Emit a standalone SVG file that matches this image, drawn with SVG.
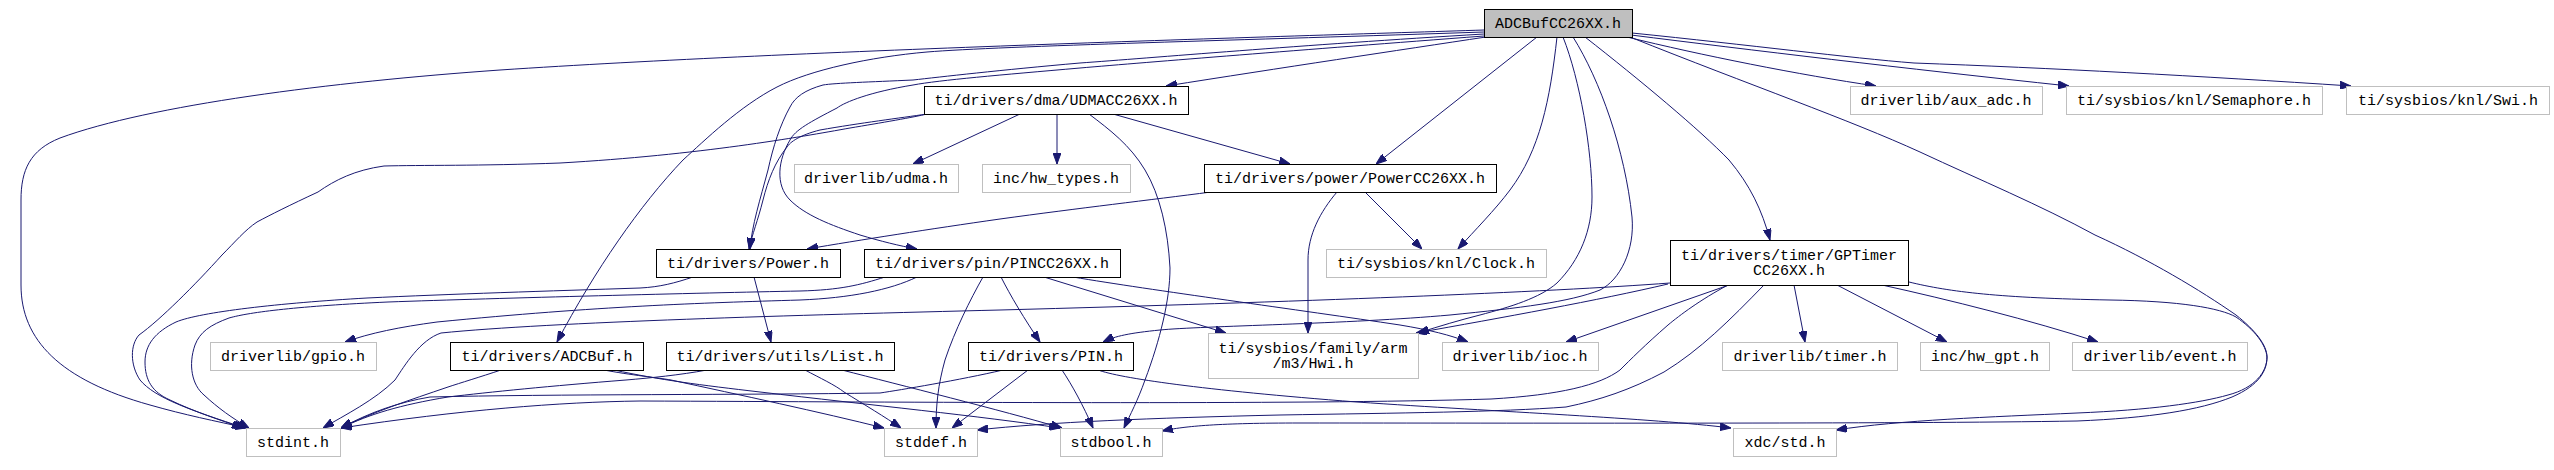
<svg xmlns="http://www.w3.org/2000/svg" width="2554" height="470" viewBox="0 0 2554 470">
<defs>
<marker id="ah" markerUnits="userSpaceOnUse" markerWidth="11" markerHeight="8" refX="11" refY="4" orient="auto"><path d="M0,0 L11,4 L0,8 Z" fill="#191970" stroke="#191970" stroke-width="1"/></marker>
</defs>
<style>
rect.b{fill:#fff;stroke:#000;stroke-width:1}
rect.g{fill:#fff;stroke:#bfbfbf;stroke-width:1}
rect.m{fill:#bfbfbf;stroke:#000;stroke-width:1}
text{font-family:"Liberation Mono","DejaVu Sans Mono",monospace;font-size:15px;fill:#000;text-anchor:middle}
#edges path{fill:none;stroke:#191970;stroke-width:1;marker-end:url(#ah)}
</style>
<rect width="2554" height="470" fill="#fff"/>
<g id="edges">
<path d="M1484,30 C1300,36 800,50 500,70 C330,82 150,105 60,138 C30,150 21,170 21,200 L21,285 C21,340 60,380 150,405 C185,415 215,421 247,428"/>
<path d="M1484,32 C1250,40 1000,46 927,52 C870,57 810,70 777,87 C740,106 705,140 683,160 C640,205 595,270 557,342"/>
<path d="M1486,37 C1400,50 1280,68 1166,86"/>
<path d="M1484,34 C1300,45 1150,58 1080,63 C1000,70 940,77 913,80 C870,82 835,83 823,85 C805,90 795,97 790,107 C780,125 773,147 768,170 C760,200 752,225 750,249"/>
<path d="M1484,36 C1300,50 1150,62 1080,68 C1000,75 940,80 913,85 C870,92 845,102 837,108 C810,122 795,130 790,140 C778,160 775,185 790,200 C805,215 830,225 860,235 C880,241 900,246 917,249"/>
<path d="M1537,37 L1376,164"/>
<path d="M1557,37 C1550,100 1540,150 1510,190 C1495,210 1475,230 1458,249"/>
<path d="M1563,37 C1580,80 1592,150 1592,197 C1592,230 1580,260 1557,283 C1540,298 1510,307 1480,315 C1460,320 1440,326 1418,333"/>
<path d="M1573,37 C1600,80 1625,150 1632,217 C1635,250 1620,280 1600,290 C1570,302 1520,308 1450,315 C1350,324 1200,326 1160,330 C1130,333 1115,336 1103,342"/>
<path d="M1585,37 C1640,80 1700,130 1729,160 C1750,185 1762,210 1770,240"/>
<path d="M1627,37 C1700,55 1800,75 1876,86"/>
<path d="M1631,35 C1750,50 1900,68 2069,86"/>
<path d="M1632,33 C1750,45 1850,58 1914,63 C2050,68 2200,76 2351,86"/>
<path d="M1630,37 C1750,85 1850,120 1920,152 C1980,180 2040,205 2095,235 C2150,260 2200,290 2236,315 C2255,330 2267,345 2267,357 C2267,370 2260,385 2232,397 C2200,410 2150,418 2077,421 C1900,424 1500,423 1300,423 C1220,423 1185,426 1162,431"/>
<path d="M1909,282 C1950,292 2000,298 2110,300 C2180,301 2220,308 2236,317 C2255,330 2266,345 2267,357 C2267,372 2255,388 2228,395 C2200,403 2150,410 2077,413 C1990,417 1900,420 1836,430"/>
<path d="M1670,283 C1550,292 1300,302 1000,310 C800,315 550,322 441,333 C420,340 405,365 395,380 C375,400 345,415 323,428"/>
<path d="M1728,285 C1700,300 1680,315 1668,325 C1645,345 1630,360 1620,370 C1600,385 1560,395 1491,399 C1300,405 900,402 640,401 C560,402 460,410 341,428"/>
<path d="M1764,285 C1730,320 1700,350 1664,372 C1630,390 1600,400 1566,407 C1500,412 1400,413 1280,415 C1150,418 1050,422 977,430"/>
<path d="M1668,284 C1600,300 1500,318 1416,333"/>
<path d="M1729,285 L1566,342"/>
<path d="M1794,285 L1805,342"/>
<path d="M1837,285 L1947,342"/>
<path d="M1882,285 C1950,300 2030,320 2098,342"/>
<path d="M927,114 C915,117 880,123 850,128 C800,137 700,155 560,163 C480,166 420,165 384,166 C355,170 335,180 318,192 C290,205 270,215 257,222 C245,230 235,242 222,255 C195,285 160,320 139,335 C130,345 130,365 140,380 C155,398 190,410 245,428"/>
<path d="M927,114 C900,118 860,123 820,130 C800,135 790,142 787,147 C775,162 768,180 763,200 C758,220 752,235 749,249"/>
<path d="M1020,114 L913,164"/>
<path d="M1057,114 L1057,164"/>
<path d="M1089,114 C1110,130 1130,145 1145,170 C1160,195 1168,230 1170,268 C1170,300 1160,340 1145,380 C1138,400 1130,415 1124,428"/>
<path d="M1113,114 L1290,164"/>
<path d="M1211,192 C1150,200 1080,208 1000,219 C930,229 860,240 807,249"/>
<path d="M1365,192 L1422,249"/>
<path d="M1337,192 C1320,212 1308,235 1308,260 L1308,333"/>
<path d="M754,277 L771,342"/>
<path d="M693,277 C675,283 660,287 640,288 C550,291 450,294 367,298 C280,303 200,312 176,322 C155,332 145,345 145,362 C145,380 152,392 170,400 C195,412 220,420 243,428"/>
<path d="M885,277 C860,285 840,290 800,291 C700,293 500,298 388,302 C300,306 250,312 229,318 C210,325 200,332 195,345 C188,365 192,385 204,395 C218,408 232,418 249,428"/>
<path d="M917,277 C890,290 850,298 800,300 C700,303 600,306 437,322 C400,327 370,333 345,342"/>
<path d="M1001,277 C1010,295 1025,320 1040,342"/>
<path d="M983,277 C970,300 955,330 945,360 C938,385 936,405 936,428"/>
<path d="M1044,277 L1226,333"/>
<path d="M1073,277 C1150,290 1300,310 1400,325 C1430,330 1450,335 1468,342"/>
<path d="M1003,370 C960,380 900,390 880,393 C750,395 550,394 430,397 C400,402 370,412 341,428"/>
<path d="M1028,370 L952,428"/>
<path d="M1062,370 C1072,385 1083,405 1093,428"/>
<path d="M1098,370 C1120,378 1200,390 1357,402 C1500,412 1650,418 1731,428"/>
<path d="M707,370 C680,375 650,378 626,380 C550,386 490,392 448,397 C400,405 370,414 341,428"/>
<path d="M805,370 C820,378 835,385 844,392 C865,405 885,417 901,428"/>
<path d="M842,370 C900,385 1000,410 1062,428"/>
<path d="M501,370 C480,377 460,383 448,387 C410,400 370,413 341,428"/>
<path d="M604,370 C630,375 660,378 671,380 C740,395 820,412 884,428"/>
<path d="M614,370 C660,380 700,385 760,392 C870,405 980,416 1060,428"/>
</g>
<g id="n-main"><rect class="m" x="1484.5" y="9.5" width="148" height="28"/><text x="1558" y="28">ADCBufCC26XX.h</text></g>
<g id="n-udma"><rect class="b" x="924.5" y="86.5" width="264" height="28"/><text x="1056" y="105">ti/drivers/dma/UDMACC26XX.h</text></g>
<g id="n-dl-udma"><rect class="g" x="794.5" y="164.5" width="164" height="28"/><text x="876" y="183">driverlib/udma.h</text></g>
<g id="n-hwtypes"><rect class="g" x="982.5" y="164.5" width="148" height="28"/><text x="1056" y="183">inc/hw_types.h</text></g>
<g id="n-powercc"><rect class="b" x="1204.5" y="164.5" width="292" height="28"/><text x="1350" y="183">ti/drivers/power/PowerCC26XX.h</text></g>
<g id="n-auxadc"><rect class="g" x="1850.5" y="86.5" width="192" height="28"/><text x="1946" y="105">driverlib/aux_adc.h</text></g>
<g id="n-sem"><rect class="g" x="2066.5" y="86.5" width="256" height="28"/><text x="2194" y="105">ti/sysbios/knl/Semaphore.h</text></g>
<g id="n-swi"><rect class="g" x="2346.5" y="86.5" width="203" height="28"/><text x="2448" y="105">ti/sysbios/knl/Swi.h</text></g>
<g id="n-power"><rect class="b" x="656.5" y="249.5" width="184" height="28"/><text x="748" y="268">ti/drivers/Power.h</text></g>
<g id="n-pincc"><rect class="b" x="864.5" y="249.5" width="256" height="28"/><text x="992" y="268">ti/drivers/pin/PINCC26XX.h</text></g>
<g id="n-clock"><rect class="g" x="1326.5" y="249.5" width="220" height="28"/><text x="1436" y="268">ti/sysbios/knl/Clock.h</text></g>
<g id="n-gptimer"><rect class="b" x="1670.5" y="240.5" width="238" height="45"/><text x="1789" y="260">ti/drivers/timer/GPTimer</text><text x="1789" y="275">CC26XX.h</text></g>
<g id="n-gpio"><rect class="g" x="210.5" y="342.5" width="166" height="28"/><text x="293" y="361">driverlib/gpio.h</text></g>
<g id="n-adcbuf"><rect class="b" x="450.5" y="342.5" width="193" height="28"/><text x="547" y="361">ti/drivers/ADCBuf.h</text></g>
<g id="n-list"><rect class="b" x="666.5" y="342.5" width="228" height="28"/><text x="780" y="361">ti/drivers/utils/List.h</text></g>
<g id="n-pin"><rect class="b" x="968.5" y="342.5" width="165" height="28"/><text x="1051" y="361">ti/drivers/PIN.h</text></g>
<g id="n-hwi"><rect class="g" x="1208.5" y="333.5" width="210" height="45"/><text x="1313" y="353">ti/sysbios/family/arm</text><text x="1313" y="368">/m3/Hwi.h</text></g>
<g id="n-ioc"><rect class="g" x="1442.5" y="342.5" width="156" height="28"/><text x="1520" y="361">driverlib/ioc.h</text></g>
<g id="n-timer"><rect class="g" x="1722.5" y="342.5" width="175" height="28"/><text x="1810" y="361">driverlib/timer.h</text></g>
<g id="n-hwgpt"><rect class="g" x="1920.5" y="342.5" width="129" height="28"/><text x="1985" y="361">inc/hw_gpt.h</text></g>
<g id="n-event"><rect class="g" x="2072.5" y="342.5" width="175" height="28"/><text x="2160" y="361">driverlib/event.h</text></g>
<g id="n-stdint"><rect class="g" x="246.5" y="428.5" width="94" height="28"/><text x="293" y="447">stdint.h</text></g>
<g id="n-stddef"><rect class="g" x="884.5" y="428.5" width="93" height="28"/><text x="931" y="447">stddef.h</text></g>
<g id="n-stdbool"><rect class="g" x="1060.5" y="428.5" width="102" height="28"/><text x="1111" y="447">stdbool.h</text></g>
<g id="n-xdcstd"><rect class="g" x="1733.5" y="428.5" width="103" height="28"/><text x="1785" y="447">xdc/std.h</text></g>
</svg>
